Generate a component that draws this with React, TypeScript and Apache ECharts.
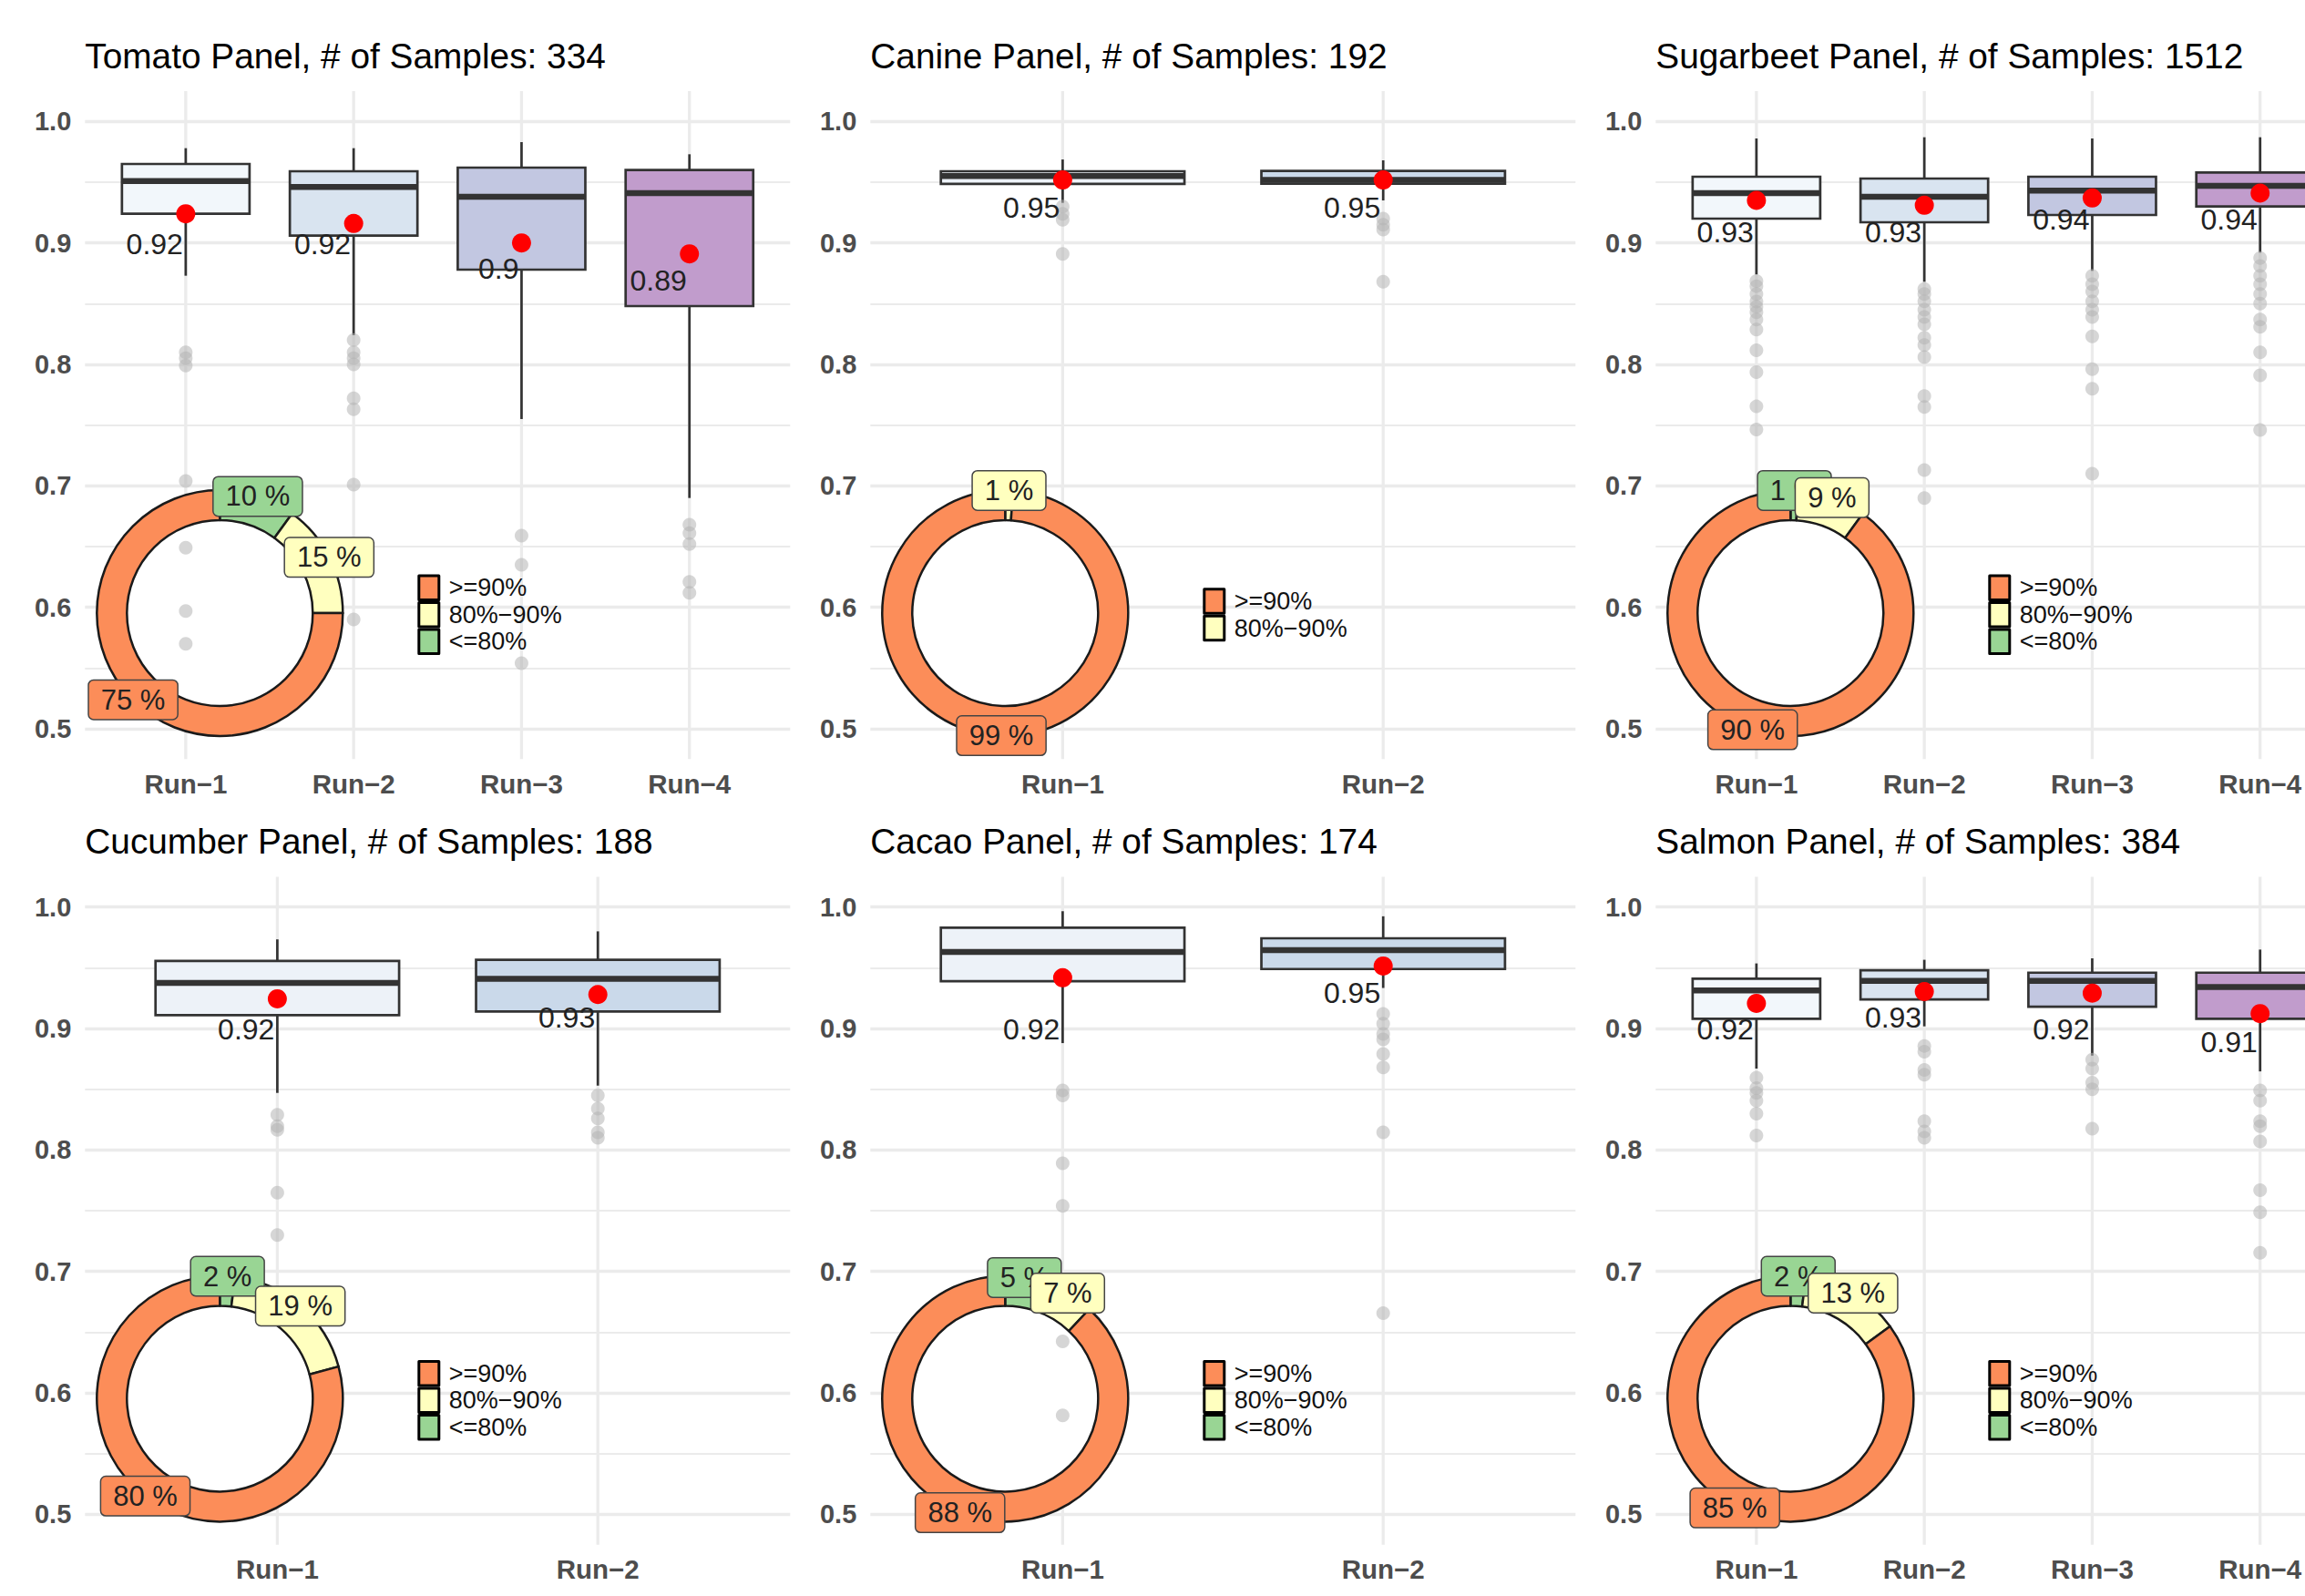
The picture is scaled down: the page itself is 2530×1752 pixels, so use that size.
import React, { useEffect, useRef } from 'react';
import * as echarts from 'echarts';

const FONT = '"Liberation Sans", Arial, Helvetica, sans-serif';

const runNames = ['Run−1', 'Run−2', 'Run−3', 'Run−4'];
const panelNames = ['Tomato Panel', 'Canine Panel', 'Sugarbeet Panel', 'Cucumber Panel', 'Cacao Panel', 'Salmon Panel'];
const sampleCounts = [334, 192, 1512, 188, 174, 384];

// box stats: [lower whisker, Q1, median, Q3, upper whisker]
const tomatoBoxes = [
  [0.873, 0.924, 0.951, 0.965, 0.978],
  [0.824, 0.906, 0.946, 0.959, 0.978],
  [0.755, 0.878, 0.938, 0.962, 0.983],
  [0.690, 0.848, 0.941, 0.960, 0.973],
];
const tomatoMeans = [0.924, 0.916, 0.900, 0.891];
const tomatoMeanLabels = [0.92, 0.92, 0.9, 0.89];
const tomatoOutliers = [
  [0.810, 0.805, 0.799, 0.704, 0.649, 0.597, 0.570],
  [0.820, 0.810, 0.805, 0.800, 0.772, 0.763, 0.701, 0.590],
  [0.659, 0.635, 0.554],
  [0.668, 0.661, 0.652, 0.621, 0.612],
];
const tomatoDonut = [10, 15, 75];

const canineBoxes = [
  [0.933, 0.9486, 0.955, 0.959, 0.9687],
  [0.935, 0.9488, 0.9518, 0.9593, 0.968],
];
const canineMeans = [0.9518, 0.9518];
const canineMeanLabels = [0.95, 0.95];
const canineOutliers = [
  [0.930, 0.924, 0.919, 0.891],
  [0.920, 0.915, 0.911, 0.868],
];
const canineDonut = [0, 1, 99];

const sugarbeetBoxes = [
  [0.874, 0.920, 0.941, 0.9545, 0.986],
  [0.868, 0.917, 0.938, 0.953, 0.987],
  [0.877, 0.923, 0.943, 0.9545, 0.986],
  [0.892, 0.930, 0.947, 0.958, 0.987],
];
const sugarbeetMeans = [0.935, 0.931, 0.937, 0.941];
const sugarbeetMeanLabels = [0.93, 0.93, 0.94, 0.94];
const sugarbeetOutliers = [
  [0.8686, 0.8644, 0.858, 0.8517, 0.8475, 0.843, 0.837, 0.8286, 0.8117, 0.7936, 0.7654, 0.7464],
  [0.862, 0.858, 0.852, 0.845, 0.839, 0.833, 0.822, 0.816, 0.806, 0.774, 0.765, 0.713, 0.690],
  [0.873, 0.866, 0.860, 0.852, 0.845, 0.839, 0.823, 0.796, 0.780, 0.710],
  [0.8875, 0.881, 0.873, 0.866, 0.858, 0.850, 0.837, 0.831, 0.810, 0.791, 0.746],
];
const sugarbeetDonut = [1, 9, 90];

const cucumberBoxes = [
  [0.847, 0.911, 0.9376, 0.9557, 0.9734],
  [0.853, 0.914, 0.941, 0.9566, 0.980],
];
const cucumberMeans = [0.9245, 0.928];
const cucumberMeanLabels = [0.92, 0.93];
const cucumberOutliers = [
  [0.829, 0.8196, 0.8166, 0.7648, 0.730],
  [0.845, 0.834, 0.826, 0.8145, 0.810],
];
const cucumberDonut = [2, 19, 80];

const cacaoBoxes = [
  [0.888, 0.939, 0.963, 0.983, 0.9966],
  [0.9334, 0.949, 0.9646, 0.9743, 0.9924],
];
const cacaoMeans = [0.9418, 0.9515];
const cacaoMeanLabels = [0.92, 0.95];
const cacaoOutliers = [
  [0.849, 0.845, 0.789, 0.754, 0.6425, 0.5814],
  [0.912, 0.904, 0.8955, 0.891, 0.879, 0.868, 0.8145, 0.6657],
];
const cacaoDonut = [5, 7, 88];

const salmonBoxes = [
  [0.867, 0.908, 0.9313, 0.941, 0.9536],
  [0.9018, 0.924, 0.9393, 0.948, 0.9566],
  [0.8777, 0.918, 0.9393, 0.946, 0.9578],
  [0.8647, 0.908, 0.9342, 0.946, 0.965],
];
const salmonMeans = [0.9207, 0.9304, 0.9292, 0.9123];
const salmonMeanLabels = [0.92, 0.93, 0.92, 0.91];
const salmonOutliers = [
  [0.8596, 0.851, 0.847, 0.8406, 0.830, 0.812],
  [0.8857, 0.881, 0.866, 0.862, 0.8238, 0.8153, 0.810],
  [0.8744, 0.867, 0.8554, 0.850, 0.8175],
  [0.849, 0.8406, 0.8238, 0.8196, 0.807, 0.7669, 0.7487, 0.7154],
];
const salmonDonut = [2, 13, 85];

// donut categories in drawing order (clockwise from 12 o'clock)
const donutNames = ['<=80%', '80%−90%', '>=90%'];
const donutColors = ['#99d594', '#ffffbf', '#fc8d59'];
const legendOrder = [2, 1, 0];

const fill4 = ['#f2f7fb', '#d9e4f0', '#c2c7e1', '#c19ccc'];
const fill2 = ['#edf2f8', '#cad9ea'];

// layout (px)
const PLOT_LEFT0 = 93.3;
const COL_STEP = 862;
const PLOT_TOP0 = 100;
const ROW_STEP = 862.4;
const PLOT_W = 774;
const PX_PER_UNIT = 1333.3;
const Y_MIN = 0.475;
const Y_MAX = 1.025;

function buildOption() {
  const panels = [
    { name: panelNames[0], count: sampleCounts[0], boxes: tomatoBoxes, means: tomatoMeans, labels: tomatoMeanLabels, outliers: tomatoOutliers, donut: tomatoDonut },
    { name: panelNames[1], count: sampleCounts[1], boxes: canineBoxes, means: canineMeans, labels: canineMeanLabels, outliers: canineOutliers, donut: canineDonut },
    { name: panelNames[2], count: sampleCounts[2], boxes: sugarbeetBoxes, means: sugarbeetMeans, labels: sugarbeetMeanLabels, outliers: sugarbeetOutliers, donut: sugarbeetDonut },
    { name: panelNames[3], count: sampleCounts[3], boxes: cucumberBoxes, means: cucumberMeans, labels: cucumberMeanLabels, outliers: cucumberOutliers, donut: cucumberDonut },
    { name: panelNames[4], count: sampleCounts[4], boxes: cacaoBoxes, means: cacaoMeans, labels: cacaoMeanLabels, outliers: cacaoOutliers, donut: cacaoDonut },
    { name: panelNames[5], count: sampleCounts[5], boxes: salmonBoxes, means: salmonMeans, labels: salmonMeanLabels, outliers: salmonOutliers, donut: salmonDonut },
  ];

  const grid: any[] = [];
  const xAxis: any[] = [];
  const yAxis: any[] = [];
  const polar: any[] = [];
  const angleAxis: any[] = [];
  const radiusAxis: any[] = [];
  const series: any[] = [];
  const legend: any[] = [];
  const graphics: any[] = [];

  const plotH = (Y_MAX - Y_MIN) * PX_PER_UNIT;

  panels.forEach((p, i) => {
    const col = i % 3;
    const row = Math.floor(i / 3);
    const L = PLOT_LEFT0 + COL_STEP * col;
    const T = PLOT_TOP0 + ROW_STEP * row;
    const n = p.boxes.length;
    const fills = n === 4 ? fill4 : fill2;

    // title
    graphics.push({
      type: 'text',
      x: L,
      y: T - 38.5,
      silent: true,
      style: {
        text: `${p.name}, # of Samples: ${p.count}`,
        fontSize: 38.8,
        fontFamily: FONT,
        fill: '#000',
        align: 'left',
        verticalAlign: 'middle',
      },
    });

    // grid A: y labels + horizontal grid lines (0.5 .. 1.0)
    const ga = grid.length;
    grid.push({ left: L, top: T + (Y_MAX - 1.0) * PX_PER_UNIT, width: PLOT_W, height: 0.5 * PX_PER_UNIT, outerBoundsMode: 'none', containLabel: false });
    xAxis.push({ gridIndex: ga, type: 'value', min: 0, max: 1, show: false });
    yAxis.push({
      gridIndex: ga,
      type: 'value',
      min: 0.5,
      max: 1.0,
      interval: 0.1,
      axisLine: { show: false },
      axisTick: { show: false },
      axisLabel: {
        formatter: (v: number) => v.toFixed(1),
        fontSize: 29,
        fontWeight: 'bold',
        fontFamily: FONT,
        color: '#4d4d4d',
        margin: 15,
      },
      splitLine: { show: true, lineStyle: { color: '#ebebeb', width: 3.3 } },
      minorTick: { show: false, splitNumber: 2 },
      minorSplitLine: { show: true, lineStyle: { color: '#ebebeb', width: 1.8 } },
    });

    // grid B: data grid (ggplot-like expanded discrete x axis)
    const gb = grid.length;
    grid.push({ left: L, top: T, width: PLOT_W, height: plotH, outerBoundsMode: 'none', containLabel: false });
    xAxis.push({ gridIndex: gb, type: 'value', min: 0.4, max: n + 0.6, show: false });
    yAxis.push({ gridIndex: gb, type: 'value', min: Y_MIN, max: Y_MAX, show: false });

    // vertical grid lines + category labels
    series.push({
      type: 'custom',
      xAxisIndex: gb,
      yAxisIndex: gb,
      z: 1,
      silent: true,
      data: p.boxes.map((_, k) => [k + 1, Y_MIN]),
      renderItem: (params: any, api: any) => {
        const x = api.value(0);
        const top = api.coord([x, Y_MAX]);
        const bot = api.coord([x, Y_MIN]);
        return {
          type: 'group',
          children: [
            { type: 'line', shape: { x1: top[0], y1: top[1], x2: bot[0], y2: bot[1] }, style: { stroke: '#ebebeb', lineWidth: 3.3 } },
            {
              type: 'text',
              x: bot[0],
              y: bot[1] + 27,
              style: {
                text: runNames[params.dataIndex],
                fill: '#4d4d4d',
                fontSize: 29.5,
                fontWeight: 'bold',
                fontFamily: FONT,
                align: 'center',
                verticalAlign: 'middle',
              },
            },
          ],
        };
      },
    });

    // donut (white hole + ring), drawn under the box layers
    const cx = L + 148;
    const cy = T + 573;
    series.push({
      type: 'pie',
      z: 2,
      silent: true,
      center: [cx, cy],
      radius: [0, 102],
      label: { show: false },
      labelLine: { show: false },
      emphasis: { disabled: true },
      itemStyle: { color: '#ffffff', borderWidth: 0 },
      data: [{ name: 'hole', value: 1 }],
    });
    const pieData: any[] = [];
    p.donut.forEach((v, k) => {
      if (v > 0) pieData.push({ name: donutNames[k], value: v, itemStyle: { color: donutColors[k] } });
    });
    series.push({
      type: 'pie',
      z: 2,
      silent: true,
      center: [cx, cy],
      radius: [102, 135],
      startAngle: 90,
      clockwise: true,
      avoidLabelOverlap: false,
      label: { show: false },
      labelLine: { show: false },
      emphasis: { disabled: true },
      itemStyle: { borderColor: '#1a1a1a', borderWidth: 2.5 },
      data: pieData,
    });

    // donut labels on a polar system aligned with the donut
    const total = p.donut.reduce((a, b) => a + b, 0);
    const pIdx = polar.length;
    polar.push({ center: [cx, cy], radius: 136 });
    angleAxis.push({ polarIndex: pIdx, type: 'value', min: 0, max: total, startAngle: 90, clockwise: true, show: false });
    radiusAxis.push({ polarIndex: pIdx, type: 'value', min: 0, max: 1, show: false });
    const lblData: any[] = [];
    const lblVals: number[] = [];
    let cum = 0;
    p.donut.forEach((v, k) => {
      if (v > 0) {
        lblVals.push(v);
        lblData.push({
          value: [0.99, cum + v / 2],
          label: { backgroundColor: donutColors[k] },
        });
      }
      cum += v;
    });
    series.push({
      type: 'scatter',
      coordinateSystem: 'polar',
      polarIndex: pIdx,
      z: 3,
      silent: true,
      symbolSize: 1,
      itemStyle: { color: 'transparent', opacity: 1 },
      label: {
        show: true,
        position: 'inside',
        formatter: (prm: any) => `${lblVals[prm.dataIndex]} %`,
        fontSize: 31,
        fontFamily: FONT,
        color: '#222222',
        borderColor: '#444444',
        borderWidth: 1.5,
        borderRadius: 5,
        padding: [4, 13],
        lineHeight: 34,
        opacity: 1,
      },
      data: lblData,
    });

    // box plots
    series.push({
      type: 'custom',
      xAxisIndex: gb,
      yAxisIndex: gb,
      z: 4,
      silent: true,
      data: p.boxes.map((b, k) => [k + 1, ...b]),
      renderItem: (params: any, api: any) => {
        const x = api.value(0);
        const lo = api.coord([x, api.value(1)]);
        const q1 = api.coord([x, api.value(2)]);
        const md = api.coord([x, api.value(3)]);
        const q3 = api.coord([x, api.value(4)]);
        const hi = api.coord([x, api.value(5)]);
        const bw = api.size([1, 0])[0] * 0.76;
        const bx = md[0];
        return {
          type: 'group',
          children: [
            { type: 'line', shape: { x1: bx, y1: hi[1], x2: bx, y2: q3[1] }, style: { stroke: '#333333', lineWidth: 2.7 } },
            { type: 'line', shape: { x1: bx, y1: q1[1], x2: bx, y2: lo[1] }, style: { stroke: '#333333', lineWidth: 2.7 } },
            {
              type: 'rect',
              shape: { x: bx - bw / 2, y: q3[1], width: bw, height: q1[1] - q3[1] },
              style: { fill: fills[params.dataIndex], stroke: '#333333', lineWidth: 2.7 },
            },
            { type: 'line', shape: { x1: bx - bw / 2, y1: md[1], x2: bx + bw / 2, y2: md[1] }, style: { stroke: '#333333', lineWidth: 6.5 } },
          ],
        };
      },
    });

    // outliers
    const outPts: number[][] = [];
    p.outliers.forEach((arr, k) => arr.forEach((v) => outPts.push([k + 1, v])));
    series.push({
      type: 'scatter',
      xAxisIndex: gb,
      yAxisIndex: gb,
      z: 5,
      silent: true,
      symbol: 'circle',
      symbolSize: 15,
      itemStyle: { color: 'rgba(180,180,180,0.55)', opacity: 1 },
      data: outPts,
    });

    // mean dots
    series.push({
      type: 'scatter',
      xAxisIndex: gb,
      yAxisIndex: gb,
      z: 6,
      silent: true,
      symbol: 'circle',
      symbolSize: 21,
      itemStyle: { color: '#ff0000', opacity: 1 },
      data: p.means.map((v, k) => [k + 1, v]),
    });

    // mean labels
    const labs = p.labels;
    series.push({
      type: 'custom',
      xAxisIndex: gb,
      yAxisIndex: gb,
      z: 7,
      silent: true,
      data: labs.map((v, k) => [k + 1, v]),
      renderItem: (params: any, api: any) => {
        const pt = api.coord([api.value(0), api.value(1)]);
        return {
          type: 'text',
          x: pt[0] - 3,
          y: pt[1] + 28,
          style: {
            text: String(labs[params.dataIndex]),
            fill: '#222222',
            fontSize: 32,
            fontFamily: FONT,
            align: 'right',
            verticalAlign: 'middle',
          },
        };
      },
    });

    // legend (icon box 22x26.5 + 3px border => ~25x29.5 keys that touch)
    const present = legendOrder.filter((k) => p.donut[k] > 0);
    legend.push({
      orient: 'vertical',
      left: L + 365,
      top: T + 574.8 - (present.length * 29.5) / 2,
      itemWidth: 22,
      itemHeight: 26.5,
      itemGap: 0,
      icon: 'rect',
      padding: 0,
      selectedMode: false,
      itemStyle: { borderColor: '#000', borderWidth: 3 },
      textStyle: { fontSize: 27, fontFamily: FONT, color: '#111', lineHeight: 26.5, padding: [0, 0, 0, 6] },
      data: present.map((k) => ({ name: donutNames[k], itemStyle: { color: donutColors[k], borderColor: '#000', borderWidth: 3 } })),
    });
  });

  return {
    animation: false,
    backgroundColor: '#ffffff',
    textStyle: { fontFamily: FONT },
    grid,
    xAxis,
    yAxis,
    polar,
    angleAxis,
    radiusAxis,
    legend,
    series,
    graphic: { elements: graphics },
  };
}

export default function App() {
  const ref = useRef<HTMLDivElement>(null);
  useEffect(() => {
    if (!ref.current) return;
    const chart = echarts.init(ref.current, null, { renderer: 'svg' });
    chart.setOption(buildOption() as any);
    return () => chart.dispose();
  }, []);
  return (
    <div
      ref={ref}
      style={{ position: 'fixed', left: 0, top: 0, width: 2530, height: 1752, background: '#fff' }}
    />
  );
}
